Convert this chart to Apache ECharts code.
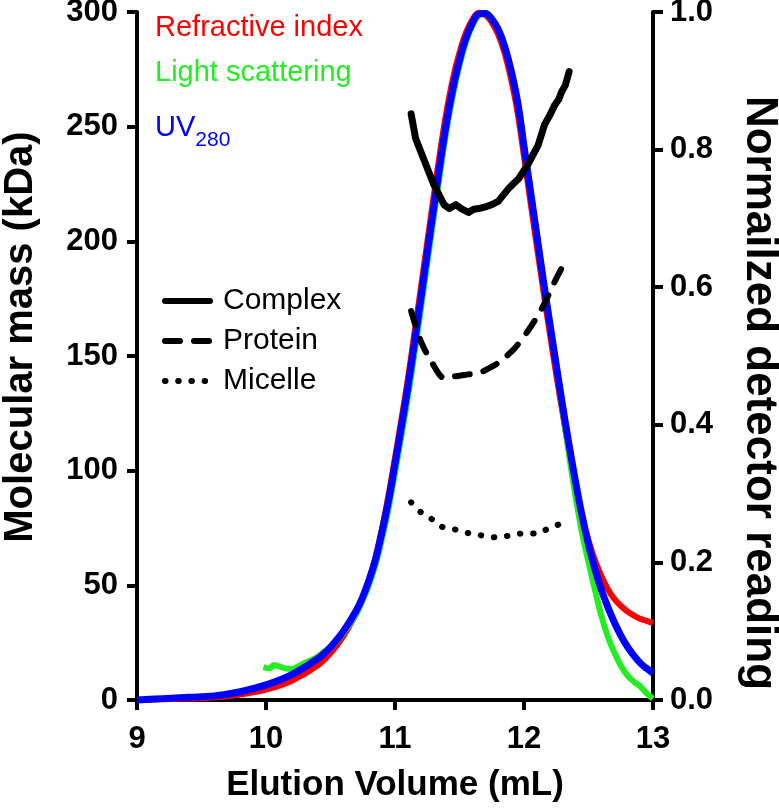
<!DOCTYPE html>
<html><head><meta charset="utf-8">
<script src="https://cdn.jsdelivr.net/npm/echarts@6/dist/echarts.min.js"></script>
<style>html,body{margin:0;padding:0;background:#fff}#c{width:779px;height:808px}</style>
</head><body><div id="c"></div>
<script>
// ---- data ----
var xTicks = [9, 10, 11, 12, 13];
var leftTicks = [0, 50, 100, 150, 200, 250, 300];
var rightTicks = [0.0, 0.2, 0.4, 0.6, 0.8, 1.0];

var detX = [9.0, 9.2, 9.4, 9.6, 9.8, 10.0, 10.2, 10.4, 10.5, 10.6, 10.7, 10.75, 10.8, 10.85, 10.9, 10.95, 11.0, 11.05, 11.1, 11.15, 11.2, 11.25, 11.3, 11.35, 11.4, 11.45, 11.5, 11.55, 11.6, 11.65, 11.7, 11.75, 11.8, 11.85, 11.9, 11.95, 12.0, 12.05, 12.1, 12.15, 12.2, 12.25, 12.3, 12.35, 12.4, 12.45, 12.5, 12.55, 12.6, 12.65, 12.7, 12.75, 12.8, 12.85, 12.9, 12.95, 13.0];
var uvY = [0.000, 0.002, 0.004, 0.006, 0.012, 0.022, 0.037, 0.060, 0.077, 0.100, 0.130, 0.150, 0.175, 0.205, 0.245, 0.290, 0.343, 0.398, 0.455, 0.518, 0.583, 0.650, 0.715, 0.780, 0.840, 0.890, 0.930, 0.962, 0.984, 0.997, 0.998, 0.990, 0.975, 0.950, 0.915, 0.870, 0.805, 0.740, 0.675, 0.610, 0.548, 0.487, 0.427, 0.370, 0.317, 0.268, 0.226, 0.190, 0.160, 0.135, 0.113, 0.094, 0.078, 0.065, 0.054, 0.046, 0.039];
var riY = [0.000, 0.001, 0.002, 0.004, 0.008, 0.015, 0.028, 0.050, 0.068, 0.093, 0.126, 0.148, 0.175, 0.208, 0.250, 0.298, 0.352, 0.408, 0.467, 0.532, 0.598, 0.665, 0.732, 0.797, 0.856, 0.904, 0.941, 0.970, 0.989, 0.999, 0.996, 0.985, 0.967, 0.940, 0.902, 0.854, 0.790, 0.724, 0.659, 0.595, 0.533, 0.473, 0.416, 0.362, 0.312, 0.268, 0.232, 0.203, 0.180, 0.161, 0.147, 0.137, 0.129, 0.123, 0.118, 0.115, 0.112];

var lsX = [9.98, 10.03, 10.06, 10.1, 10.15, 10.2, 10.25, 10.3, 10.35, 10.4, 10.45, 10.5, 10.6, 10.7, 10.75, 10.8, 10.85, 10.9, 10.95, 11.0, 11.05, 11.1, 11.15, 11.2, 11.25, 11.3, 11.35, 11.4, 11.45, 11.5, 11.55, 11.6, 11.65, 11.7, 11.75, 11.8, 11.85, 11.9, 11.95, 12.0, 12.05, 12.1, 12.15, 12.2, 12.25, 12.3, 12.35, 12.4, 12.45, 12.5, 12.55, 12.6, 12.65, 12.7, 12.75, 12.8, 12.85, 12.9, 12.95, 13.0];
var lsY = [0.048, 0.046, 0.051, 0.049, 0.046, 0.045, 0.049, 0.054, 0.058, 0.063, 0.070, 0.076, 0.097, 0.125, 0.145, 0.168, 0.197, 0.235, 0.278, 0.330, 0.384, 0.440, 0.502, 0.567, 0.634, 0.700, 0.766, 0.828, 0.880, 0.922, 0.956, 0.980, 0.995, 0.998, 0.990, 0.975, 0.950, 0.915, 0.870, 0.805, 0.740, 0.675, 0.610, 0.548, 0.485, 0.420, 0.355, 0.295, 0.243, 0.200, 0.160, 0.122, 0.092, 0.069, 0.050, 0.036, 0.027, 0.020, 0.010, 0.002];

var complexX = [11.125, 11.16, 11.23, 11.30, 11.38, 11.42, 11.47, 11.52, 11.57, 11.61, 11.65, 11.70, 11.75, 11.80, 11.88, 11.96, 12.03, 12.11, 12.16, 12.20, 12.24, 12.27, 12.29, 12.32, 12.35];
var complexY = [255.6, 244.8, 234.8, 224.8, 216, 214.3, 216, 214, 212.6, 214, 214.3, 215, 216, 217.4, 223, 227.4, 233.5, 242, 251, 255, 259.6, 262, 265, 268, 274];
var proteinX = [11.125, 11.2, 11.28, 11.38, 11.42, 11.49, 11.57, 11.65, 11.74, 11.82, 11.93, 12.03, 12.14, 12.24, 12.32];
var proteinY = [169.6, 156.5, 147.8, 140.4, 141, 141.3, 142, 142.6, 145, 147.8, 153.5, 160.9, 170.9, 182.6, 191.3];
var micelleX = [11.125, 11.2, 11.29, 11.37, 11.47, 11.58, 11.68, 11.79, 11.89, 11.99, 12.1, 12.19, 12.29];
var micelleY = [86.2, 81.9, 78.7, 75.4, 74.3, 72.6, 71.7, 70.9, 71.7, 72.6, 72.6, 74.8, 77];

function pairs(xs, ys) { return xs.map(function (x, i) { return [x, ys[i]]; }); }

var FONT = "'Liberation Sans', Arial, Helvetica, sans-serif";
var RED = '#ff0000', GREEN = '#22ee22', BLUE = '#0000ff';

var axisCommon = {
  axisLine: { show: true, onZero: false, lineStyle: { color: '#000', width: 4 } },
  axisTick: { show: true, length: 10, lineStyle: { color: '#000', width: 4 } },
  splitLine: { show: false }
};
function labelStyle(m) { return { fontSize: 31, fontWeight: 'bold', color: '#000', fontFamily: FONT, margin: m }; }
function nameStyle(s, pad) { return { fontSize: s, fontWeight: 'bold', color: '#000', fontFamily: FONT, padding: pad || 0 }; }

var chart = echarts.init(document.getElementById('c'), null, { renderer: 'canvas' });
chart.setOption({
  animation: false,
  backgroundColor: '#fff',
  grid: { left: 137, right: 126, top: 12, bottom: 108, containLabel: false, outerBoundsMode: 'none' },
  xAxis: Object.assign({}, axisCommon, {
    type: 'value', min: xTicks[0], max: xTicks[xTicks.length - 1], interval: xTicks[1] - xTicks[0],
    axisLabel: labelStyle(24),
    name: 'Elution Volume (mL)', nameLocation: 'middle', nameGap: 68, nameTextStyle: nameStyle(35)
  }),
  yAxis: [
    Object.assign({}, axisCommon, {
      type: 'value', position: 'left', min: leftTicks[0], max: leftTicks[leftTicks.length - 1], interval: leftTicks[1] - leftTicks[0],
      axisLabel: labelStyle(19),
      name: 'Molecular mass (kDa)', nameLocation: 'middle', nameGap: 96, nameTextStyle: nameStyle(40, [0, 0, 0, 38])
    }),
    Object.assign({}, axisCommon, {
      type: 'value', position: 'right', min: rightTicks[0], max: rightTicks[rightTicks.length - 1], interval: 0.2,
      axisLabel: Object.assign(labelStyle(17), { formatter: function (v) { return v.toFixed(1); } }),
      name: 'Normailzed detector reading', nameLocation: 'middle', nameRotate: -90, nameGap: 84, nameTextStyle: nameStyle(44, [0, 0, 0, 74])
    })
  ],
  legend: [
    {
      orient: 'vertical', left: 145, top: 0, icon: 'none', itemWidth: 0, itemHeight: 1, itemGap: 0,
      selectedMode: false,
      textStyle: { fontSize: 29, fontFamily: FONT, lineHeight: 45,
        rich: {
          u: { fontSize: 29, fontFamily: FONT, color: BLUE, lineHeight: 30, verticalAlign: 'top', padding: [18, 0, 0, 0] },
          s: { fontSize: 21, fontFamily: FONT, color: BLUE, lineHeight: 21, verticalAlign: 'top', padding: [35, 0, 0, 0] }
        } },
      formatter: function (n) { return n === 'UV280' ? '{u|UV}{s|280}' : n; },
      data: [
        { name: 'Refractive index', textStyle: { color: RED } },
        { name: 'Light scattering', textStyle: { color: GREEN } },
        { name: 'UV280', textStyle: { color: BLUE } }
      ]
    },
    {
      orient: 'vertical', left: 157, top: 276, itemWidth: 45, itemHeight: 2, itemGap: 0,
      selectedMode: false,
      itemStyle: { opacity: 0 },
      lineStyle: { width: 6, color: '#000' },
      textStyle: { fontSize: 30, fontFamily: FONT, color: '#000', lineHeight: 40, padding: [0, 0, 0, 8] },
      data: ['Complex', 'Protein', 'Micelle']
    }
  ],
  series: [
    { name: 'Refractive index', type: 'line', yAxisIndex: 1, data: pairs(detX, riY), symbol: 'none', smooth: 0.4, clip: false,
      lineStyle: { color: RED, width: 6 }, itemStyle: { color: RED } },
    { name: 'Light scattering', type: 'line', yAxisIndex: 1, data: pairs(lsX, lsY), symbol: 'none', smooth: 0.4, clip: false,
      lineStyle: { color: GREEN, width: 6 }, itemStyle: { color: GREEN } },
    { name: 'UV280', type: 'line', yAxisIndex: 1, data: pairs(detX, uvY), symbol: 'none', smooth: 0.4, clip: false,
      lineStyle: { color: BLUE, width: 7 }, itemStyle: { color: BLUE } },
    { name: 'Complex', type: 'line', yAxisIndex: 0, data: pairs(complexX, complexY), symbol: 'none', clip: false,
      lineStyle: { color: '#000', width: 7, cap: 'round', join: 'round' }, itemStyle: { color: '#000' } },
    { name: 'Protein', type: 'line', yAxisIndex: 0, data: pairs(proteinX, proteinY), symbol: 'none', smooth: 0.3, clip: false,
      lineStyle: { color: '#000', width: 6, type: [15, 14], cap: 'round', join: 'round' }, itemStyle: { color: '#000' } },
    { name: 'Micelle', type: 'line', yAxisIndex: 0, data: pairs(micelleX, micelleY), symbol: 'none', smooth: 0.3, clip: false,
      lineStyle: { color: '#000', width: 6, type: [0.5, 12.7], cap: 'round' }, itemStyle: { color: '#000' } }
  ]
});
</script></body></html>
